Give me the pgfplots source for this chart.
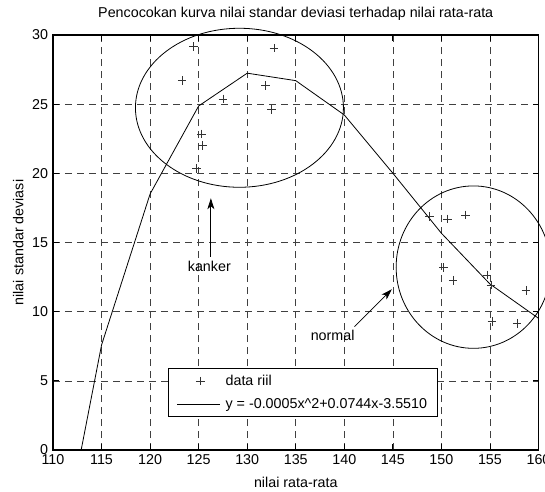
\documentclass[border=0pt]{standalone}
\usepackage{fontspec}
\setmainfont{Liberation Sans}
\usepackage{pgfplots}
\pgfplotsset{compat=1.18}
\usetikzlibrary{arrows.meta}

\pgfplotsset{
  marklegend/.style={legend image code/.code={\draw[mark repeat=2,mark phase=2,##1]
    plot coordinates {(0pt,0pt) (23pt,0pt) (46pt,0pt)};}},
  linelegend/.style={legend image code/.code={\draw[##1] (0pt,0pt) -- (43pt,0pt);}},
}

\begin{document}
\fontsize{14.3}{17}\selectfont
\begin{tikzpicture}
\begin{axis}[
  scale only axis, width=485.5pt, height=415pt,
  xmin=110, xmax=160, ymin=0, ymax=30,
  xtick={110,115,...,160}, ytick={0,5,...,30},
  /pgf/number format/assume math mode=true,
  grid=major,
  major grid style={black!75, line width=0.6pt, dash pattern=on 7pt off 5pt},
  tick align=inside, major tick length=6pt,
  tick style={black, line width=0.8pt},
  axis line style={line width=1.2pt},
  title={Pencocokan kurva nilai standar deviasi terhadap nilai rata-rata},
  title style={at={(axis description cs:0.5,1.0282)}, anchor=base},
  xlabel={nilai rata-rata},
  xlabel style={at={(axis description cs:0.5,-0.0892)}, anchor=base},
  ylabel={nilai standar deviasi},
  ylabel style={at={(axis description cs:-0.0610,0.5)}, anchor=base},
  legend style={at={(rel axis cs:0.2375,0.198)}, anchor=north west,
    draw=black, line width=1pt, fill=white, row sep=7pt, column sep=3pt,
    cells={anchor=west}, inner xsep=8pt, inner ysep=4.5pt},
  legend cell align=left,
]
\addplot[only marks, mark=+, mark size=4.3pt, black!80, line width=0.6pt, marklegend]
coordinates {
  (124.5,29.16) (132.75,29.05) (123.3,26.70) (131.9,26.34) (127.5,25.38)
  (132.5,24.63) (125.3,22.85) (125.4,22.03) (124.8,20.37)
  (148.8,16.87) (150.6,16.70) (152.5,16.99) (150.2,13.18) (151.2,12.27)
  (154.7,12.65) (155.1,11.93) (158.7,11.55) (155.2,9.28) (157.8,9.16)
};
\addlegendentry{data riil}
\addplot[black, line width=0.8pt, linelegend]
coordinates {
  (112.9,0) (115,7.59) (120,18.51) (125,24.87) (130,27.24) (135,26.70)
  (140,24.22) (145,20.01) (150,15.67) (155,12.0) (160,9.52)
};
\addlegendentry{y = -0.0005x\textasciicircum{}2+0.0744x-3.5510}

\coordinate (ck) at (axis cs:129.2,24.74);
\coordinate (cn) at (axis cs:153.3,13.22);
\coordinate (sw) at (rel axis cs:0,0);

\draw[-{Stealth[length=11pt,width=7pt,inset=3pt]}, line width=0.8pt]
  (axis cs:126.26,13.98) -- (axis cs:126.26,18.2);
\node[anchor=north] at (axis cs:126.1,13.98) {kanker};
\draw[-{Stealth[length=11pt,width=7pt,inset=3pt]}, line width=0.8pt]
  (axis cs:141.05,8.92) -- (axis cs:144.9,11.62);
\node at (axis cs:138.8,8.32) {normal};
\end{axis}
\draw[line width=0.8pt] (ck) ellipse [x radius=104pt, y radius=79.5pt];
\draw[line width=0.8pt] (cn) ellipse [x radius=77.3pt, y radius=81.2pt];
\pgfresetboundingbox
\path[use as bounding box] ([shift={(-53pt,-41pt)}]sw) rectangle ([shift={(492pt,450pt)}]sw);
\end{tikzpicture}
\end{document}
